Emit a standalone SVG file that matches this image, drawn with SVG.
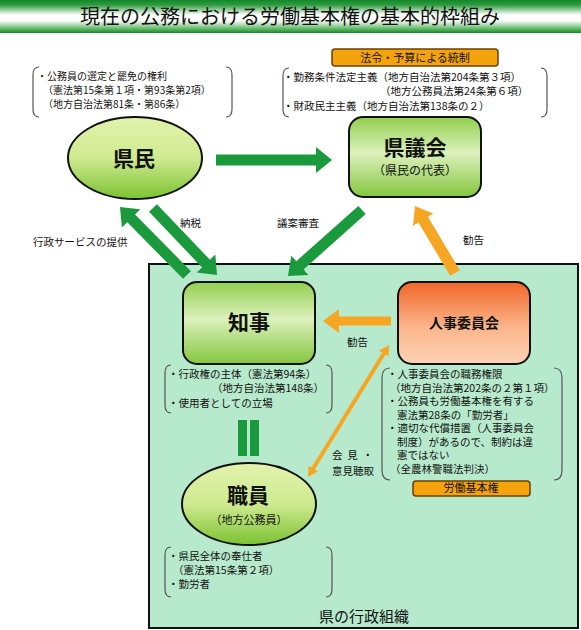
<svg xmlns="http://www.w3.org/2000/svg" width="581" height="630" viewBox="0 0 581 630">
<style>
text{font-family:'Noto Sans CJK JP','Noto Sans CJK SC',sans-serif;fill:#111}
.s{font-size:10.5px}
.t{font-size:10px}
.lbl{font-size:10.5px}
.big{font-size:21px;font-weight:bold}
.sub{font-size:12px}
.br{fill:none;stroke:#555;stroke-width:1.2}
.node{stroke:#111;stroke-width:2}
.tag{fill:#f5a30c;stroke:#6b4000;stroke-width:1.5}
.g{stroke:#1a9a3c;stroke-width:11;fill:none}
.o{stroke:#f6a623;fill:none}
</style>
<defs>
<linearGradient id="title" x1="0" y1="0" x2="0" y2="1">
<stop offset="0" stop-color="#12882a"/><stop offset="0.15" stop-color="#2f9a3e"/><stop offset="0.45" stop-color="#ffffff"/><stop offset="0.62" stop-color="#ffffff"/><stop offset="0.88" stop-color="#5db663"/><stop offset="1" stop-color="#12882a"/>
</linearGradient>
<linearGradient id="ell" x1="0" y1="0" x2="0" y2="1">
<stop offset="0" stop-color="#e2f2ac"/><stop offset="0.5" stop-color="#cfea90"/><stop offset="1" stop-color="#7cc232"/>
</linearGradient>
<linearGradient id="gbox" x1="0" y1="0" x2="0" y2="1">
<stop offset="0" stop-color="#92cf4e"/><stop offset="0.45" stop-color="#dcf1bc"/><stop offset="1" stop-color="#84c63e"/>
</linearGradient>
<linearGradient id="obox" x1="0" y1="0" x2="0" y2="1">
<stop offset="0" stop-color="#f0662a"/><stop offset="0.55" stop-color="#fbb58a"/><stop offset="1" stop-color="#fdd3b6"/>
</linearGradient>
<marker id="hg" markerUnits="userSpaceOnUse" markerWidth="16" markerHeight="26" viewBox="0 0 16 26" refX="1" refY="13" orient="auto"><path d="M0,0 L16,13 L0,26 z" fill="#1a9a3c"/></marker>
<marker id="ho" markerUnits="userSpaceOnUse" markerWidth="16" markerHeight="24" viewBox="0 0 16 24" refX="1" refY="12" orient="auto"><path d="M0,0 L16,12 L0,24 z" fill="#f6a623"/></marker>
<marker id="hs" markerUnits="userSpaceOnUse" markerWidth="10" markerHeight="11" viewBox="0 0 10 11" refX="1" refY="5.5" orient="auto-start-reverse"><path d="M0,0 L10,5.5 L0,11 z" fill="#f6a623"/></marker>
</defs>

<rect x="0" y="0" width="581" height="630" fill="#ffffff"/>
<g id="title-bar">
<rect x="0" y="0" width="581" height="33" fill="url(#title)"/>
<text x="290" y="24" text-anchor="middle" font-size="20">現在の公務における労働基本権の基本的枠組み</text>
</g>

<g id="admin-org">
<rect x="149" y="264" width="429" height="364" fill="#b7e9cc" stroke="#111" stroke-width="2"/>
<text x="364" y="622" text-anchor="middle" font-size="15">県の行政組織</text>
</g>

<g id="note-kenmin">
<path class="br" d="M39,67 Q33,67 33,75 L33,109 Q33,117 39,117 M226,67 Q232,67 232,75 L232,109 Q232,117 226,117"/>
<text class="t" x="37" y="80">・公務員の選定と罷免の権利</text>
<text class="t" x="43" y="94">（憲法第15条第１項・第93条第2項）</text>
<text class="t" x="43" y="108">（地方自治法第81条・第86条）</text>
</g>

<g id="tag-control">
<rect class="tag" x="332" y="49" width="166" height="17" rx="3"/>
<text x="415" y="62" text-anchor="middle" font-size="11">法令・予算による統制</text>
</g>

<g id="note-gikai">
<path class="br" d="M289,68 Q283,68 283,76 L283,109 Q283,117 289,117 M541,68 Q547,68 547,76 L547,109 Q547,117 541,117"/>
<text class="s" x="283" y="81">・勤務条件法定主義（地方自治法第204条第３項）</text>
<text class="s" x="380" y="95">（地方公務員法第24条第６項）</text>
<text class="s" x="283" y="109.5">・財政民主主義（地方自治法第138条の２）</text>
</g>

<g id="kenmin">
<ellipse class="node" cx="135" cy="158" rx="67" ry="41" fill="url(#ell)"/>
<text class="big" x="134" y="166" text-anchor="middle">県民</text>
</g>

<g id="gikai">
<rect class="node" x="349" y="117" width="132" height="80" rx="14" fill="url(#gbox)"/>
<text class="big" x="415" y="155" text-anchor="middle">県議会</text>
<text class="sub" x="415" y="175" text-anchor="middle">（県民の代表）</text>
</g>

<g id="chiji">
<rect class="node" x="183" y="282" width="132" height="82" rx="14" fill="url(#gbox)"/>
<text class="big" x="249" y="330" text-anchor="middle">知事</text>
</g>

<g id="jinji">
<rect class="node" x="398" y="282" width="132" height="82" rx="14" fill="url(#obox)"/>
<text x="464" y="328" text-anchor="middle" font-size="14" font-weight="bold">人事委員会</text>
</g>

<g id="note-chiji">
<path class="br" d="M171,365 Q165,365 165,373 L165,405 Q165,413 171,413 M326,365 Q332,365 332,373 L332,405 Q332,413 326,413"/>
<text class="s" x="168" y="378">・行政権の主体（憲法第94条）</text>
<text class="s" x="212" y="392">（地方自治法第148条）</text>
<text class="s" x="168" y="406.5">・使用者としての立場</text>
</g>

<g id="note-jinji">
<path class="br" d="M390,368 Q382,368 382,378 L382,470 Q382,480 390,480 M554,368 Q562,368 562,378 L562,470 Q562,480 554,480"/>
<text class="s" x="387" y="378">・人事委員会の職務権限</text>
<text class="s" x="390" y="391.5">（地方自治法第202条の２第１項）</text>
<text class="s" x="387" y="405">・公務員も労働基本権を有する</text>
<text class="s" x="397" y="418.5">憲法第28条の「勤労者」</text>
<text class="s" x="387" y="432">・適切な代償措置（人事委員会</text>
<text class="s" x="397" y="445.5">制度）があるので、制約は違</text>
<text class="s" x="397" y="459">憲ではない</text>
<text class="s" x="390" y="472.5">（全農林警職法判決）</text>
</g>

<g id="tag-labor">
<rect class="tag" x="413" y="481" width="117" height="15" rx="3"/>
<text x="471" y="492" text-anchor="middle" font-size="11">労働基本権</text>
</g>

<g id="equal">
<rect x="238" y="420" width="9" height="36" fill="#1a9a3c"/>
<rect x="250" y="420" width="9" height="36" fill="#1a9a3c"/>
</g>

<g id="shokuin">
<ellipse class="node" cx="249" cy="504" rx="67" ry="41" fill="url(#ell)"/>
<text class="big" x="248" y="503" text-anchor="middle">職員</text>
<text x="249" y="524" text-anchor="middle" font-size="11">（地方公務員）</text>
</g>

<g id="note-shokuin">
<path class="br" d="M171,547 Q165,547 165,555 L165,589 Q165,597 171,597 M326,547 Q332,547 332,555 L332,589 Q332,597 326,597"/>
<text class="s" x="168" y="560">・県民全体の奉仕者</text>
<text class="s" x="173" y="574">（憲法第15条第２項）</text>
<text class="s" x="168" y="588">・勤労者</text>
</g>

<g id="connectors">
<line class="g" x1="216" y1="160" x2="317" y2="160" marker-end="url(#hg)"/>
<line class="g" x1="187" y1="275" x2="130.5" y2="217.7" marker-end="url(#hg)"/>
<line class="g" x1="153" y1="208" x2="206.6" y2="264.2" marker-end="url(#hg)"/>
<line class="g" x1="362" y1="210" x2="299.2" y2="266" marker-end="url(#hg)"/>
<line class="o" stroke-width="11" x1="455" y1="273" x2="422.7" y2="218.9" marker-end="url(#ho)"/>
<line class="o" stroke-width="9" x1="391" y1="321" x2="338" y2="321" marker-end="url(#ho)"/>
<line class="o" stroke-width="4" x1="384.3" y1="352.7" x2="312.7" y2="469.3" marker-start="url(#hs)" marker-end="url(#hs)"/>
<text class="lbl" x="180" y="227">納税</text>
<text class="lbl" x="33" y="246">行政サービスの提供</text>
<text class="lbl" x="277" y="227">議案審査</text>
<text class="lbl" x="463" y="244">勧告</text>
<text class="lbl" x="347" y="346">勧告</text>
<text class="lbl" x="332" y="459" textLength="41" lengthAdjust="spacing">会見・</text>
<text class="lbl" x="332" y="475">意見聴取</text>
</g>
</svg>
